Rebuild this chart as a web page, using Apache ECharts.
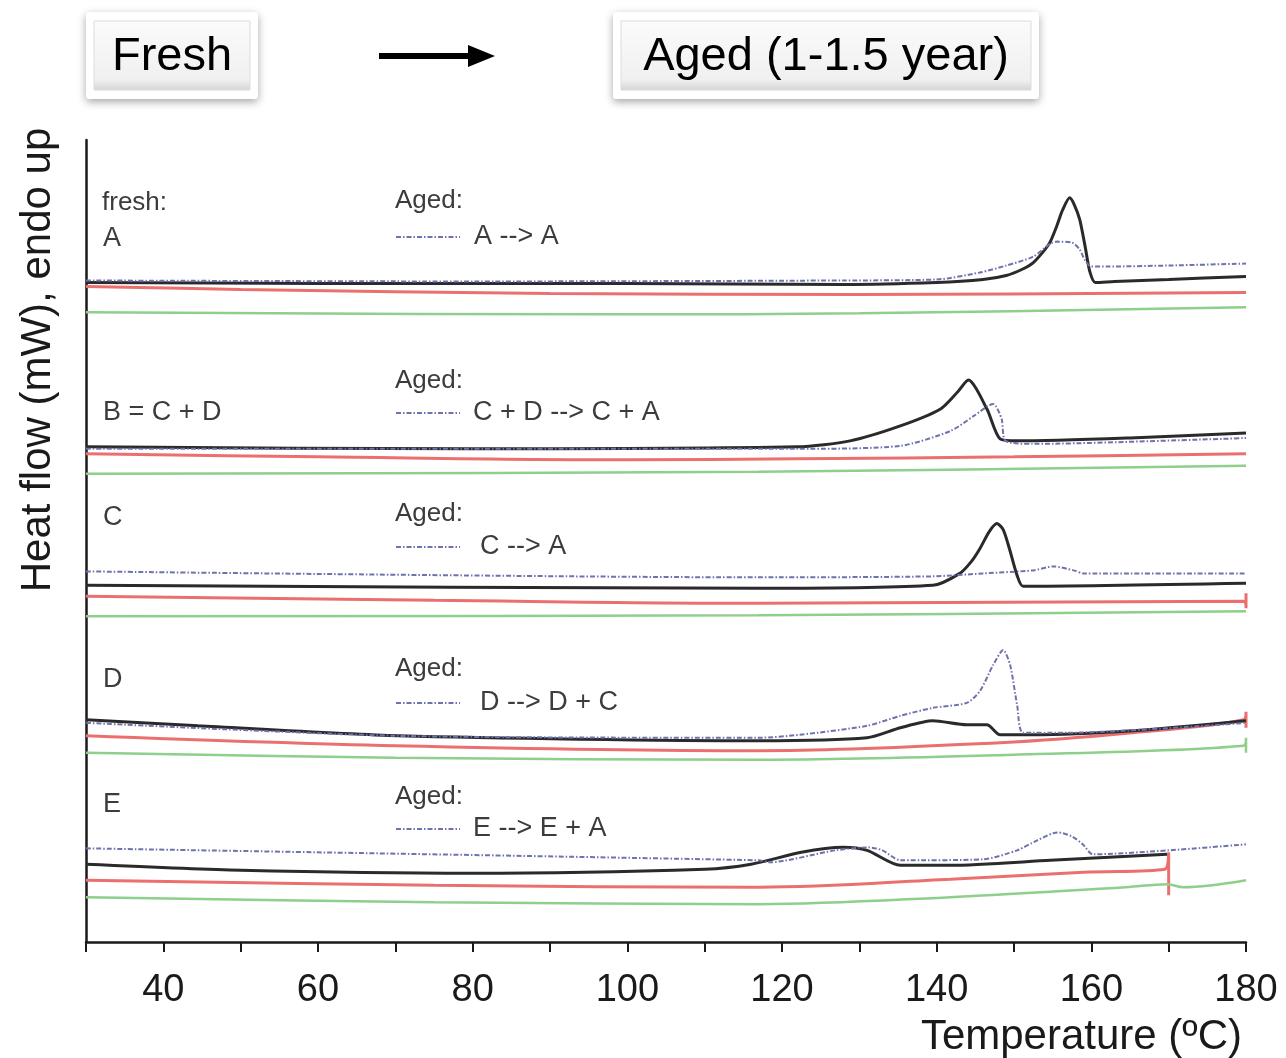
<!DOCTYPE html>
<html>
<head>
<meta charset="utf-8">
<style>
  html, body { margin: 0; padding: 0; background: #ffffff; }
  #chart { width: 1286px; height: 1058px; }
</style>
<script src="https://cdn.jsdelivr.net/npm/echarts@6/dist/echarts.min.js"></script>
</head>
<body>
<div id="chart"></div>
<script>
// ---- Axis settings ----
const xTickLabels = [40, 60, 80, 100, 120, 140, 160, 180];
const xTitle = 'Temperature (ºC)';
const yTitle = 'Heat flow (mW), endo up';

// ---- Data: [temperature (°C), heat flow (arbitrary offset units)] ----
// Sample A
const aFresh = [[30,662],[60,661],[100,661],[128,660],[140,662],[146,665],[149,669],[151,675],[152.5,682],[154,695],[154.7,703],[155.5,718],[156.3,735],[157.2,747],[157.8,740],[158.5,725],[159.2,698],[159.8,673],[160.5,662],[163,663],[170,665],[180,668]];
const aAged  = [[30,664],[80,663],[128,664],[140,665],[145.6,672],[149,679],[152.5,688],[154.7,701],[155.6,703],[157.5,702],[158.5,695],[159.2,684],[160,678],[162,678],[170,679],[180,681]];
const aRed   = [[30,658],[50,655],[90,651],[130,650],[180,652]];
const aGreen = [[30,632],[100,630],[130,631],[180,637]];
// Sample B = C + D
const bFresh = [[30,497],[80,495],[122,497],[128.8,503],[135.3,518],[140.5,535],[142.7,552],[144.1,564],[146.5,535],[148.2,505],[150.4,503],[165,506],[180,511]];
const bAged  = [[30,495],[122,495],[135.3,498],[141.8,513],[144.8,528],[147.3,540],[148.4,525],[148.9,503],[152.4,500],[177,505],[180,506]];
const bRed   = [[30,490],[60,487],[100,484],[122,485],[150,487],[180,490]];
const bGreen = [[30,470],[117,472],[180,478]];
// Sample C
const cFresh = [[30,358],[117,355],[139.5,358],[143,370],[144.5,382],[145.6,395],[146.8,412],[147.8,420],[148.6,414],[149.4,395],[150.4,368],[151.2,357],[180,360]];
const cAged  = [[30,372],[117,366],[139.5,367],[146,370],[152.5,373],[155.1,377],[157.7,373],[159,370],[180,370]];
const cRed   = [[30,347],[75,343],[117,340],[179.7,342],[180,335],[180,350]];
const cGreen = [[30,327],[117,328],[180,332]];
// Sample D
const dFresh = [[30,223],[44.5,217],[70.4,207],[117,202],[131,205],[135.3,215],[139.5,222],[143.9,218],[146.5,218],[148.2,208],[152.4,208],[165.3,212],[180,222]];
const dAged  = [[30,220],[70,207],[117,205],[122.3,208],[131,217],[135.3,227],[139.5,235],[143.9,240],[145.6,252],[147.3,278],[148.6,293],[149.5,278],[150.4,238],[151.2,210],[156.8,210],[180,220]];
const dRed   = [[30,207],[70,197],[117,192],[148.2,200],[165.3,210],[179.7,223],[180,231],[180,215]];
const dGreen = [[30,190],[70,185],[117,183],[150,188],[179.7,197],[180,205],[180,190]];
// Sample E
const eFresh = [[30,78],[50,72],[80,69],[110,73],[116,78],[122.5,90],[127.9,95],[131,92],[135.3,77],[141.8,77],[154.7,82],[169.8,88]];
const eAged  = [[30,94],[117,82],[118.3,80],[126.9,92],[131.2,95],[133,92],[135.3,82],[146,83],[150.4,92],[153,102],[155.6,110],[157.5,106],[158.9,98],[160.2,88],[170,92],[180,98]];
const eRed   = [[30,62],[75,57],[117,55],[141.8,63],[159,70],[169.5,73],[170,90],[170,47]];
const eGreen = [[30,45],[75,40],[117,38],[141.8,45],[164.5,55],[169.8,58],[171.9,55],[180,62]];

// ---- Annotation texts ----
const freshLabels = ['A', 'B = C + D', 'C', 'D', 'E'];
const agedLabels = ['A --> A', 'C + D --> C + A', 'C --> A', 'D --> D + C', 'E --> E + A'];

const FONT = "'Liberation Sans', Arial, Helvetica, sans-serif";
const COL = {
  black: '#2a2a2a',
  aged: '#6e72ad',
  red: '#ec6f6f',
  green: '#8fcf8a'
};

function mk(name, data, kind) {
  const st = {
    black: { color: COL.black, width: 3, type: 'solid' },
    aged:  { color: COL.aged, width: 2, type: [5, 2, 1.5, 2] },
    red:   { color: COL.red, width: 3, type: 'solid' },
    green: { color: COL.green, width: 2.5, type: 'solid' }
  }[kind];
  return {
    name: name, type: 'line', data: data,
    showSymbol: false, symbol: 'none',
    smooth: (kind === 'black' || kind === 'aged') ? 0.25 : 0.35,
    lineStyle: st, itemStyle: { color: st.color },
    z: kind === 'aged' ? 5 : (kind === 'black' ? 4 : 3),
    silent: true, animation: false
  };
}

const series = [
  mk('A red', aRed, 'red'), mk('A green', aGreen, 'green'), mk('A fresh', aFresh, 'black'), mk('A aged', aAged, 'aged'),
  mk('B red', bRed, 'red'), mk('B green', bGreen, 'green'), mk('B fresh', bFresh, 'black'), mk('B aged', bAged, 'aged'),
  mk('C red', cRed, 'red'), mk('C green', cGreen, 'green'), mk('C fresh', cFresh, 'black'), mk('C aged', cAged, 'aged'),
  mk('D red', dRed, 'red'), mk('D green', dGreen, 'green'), mk('D fresh', dFresh, 'black'), mk('D aged', dAged, 'aged'),
  mk('E red', eRed, 'red'), mk('E green', eGreen, 'green'), mk('E fresh', eFresh, 'black'), mk('E aged', eAged, 'aged')
];

// annotation layout (vertical centres in px)
const freshY = [239, 413, 518, 680, 805];
const agedHeadY = [201, 381, 514, 669, 797];
const agedY = [237, 413, 547, 703, 829];
const agedX = [474, 473, 480, 480, 473];

const graphics = [];
// top boxes
function box(x, y, w, h, text) {
  graphics.push({
    type: 'rect', shape: { x: x, y: y, width: w, height: h, r: 3 },
    style: { fill: '#ffffff', shadowBlur: 8, shadowColor: 'rgba(0,0,0,0.35)', shadowOffsetY: 3 }, z: 10
  });
  graphics.push({
    type: 'rect', shape: { x: x + 8, y: y + 9, width: w - 16, height: h - 18 },
    style: {
      fill: { type: 'linear', x: 0, y: 0, x2: 0, y2: 1, colorStops: [
        { offset: 0, color: '#fbfbfb' }, { offset: 0.85, color: '#f0f0f0' }, { offset: 1, color: '#d4d4d4' }] },
      stroke: '#dcdcdc', lineWidth: 1
    }, z: 11
  });
  graphics.push({
    type: 'text', x: x + w / 2, y: y + h / 2 + 2,
    style: { text: text, font: "47px " + FONT, fill: '#000000', align: 'center', verticalAlign: 'middle' }, z: 12
  });
}
box(86, 12, 172, 87, 'Fresh');
box(613, 12, 426, 87, 'Aged (1-1.5 year)');
// arrow
graphics.push({ type: 'rect', shape: { x: 379, y: 53, width: 92, height: 6 }, style: { fill: '#000' }, z: 10 });
graphics.push({ type: 'polygon', shape: { points: [[468, 45], [495, 56], [468, 67]] }, style: { fill: '#000' }, z: 10 });

// y-axis title
graphics.push({
  type: 'text', x: 38, y: 360, rotation: Math.PI / 2,
  style: { text: yTitle, font: "42px " + FONT, fill: '#1a1a1a', align: 'center', verticalAlign: 'middle' }, z: 10
});

// panel annotations
graphics.push({ type: 'text', x: 102, y: 203,
  style: { text: 'fresh:', font: "26px " + FONT, fill: '#3c3c3c', align: 'left', verticalAlign: 'middle' }, z: 10 });
for (let i = 0; i < 5; i++) {
  graphics.push({ type: 'text', x: 103, y: freshY[i],
    style: { text: freshLabels[i], font: "27px " + FONT, fill: '#3c3c3c', align: 'left', verticalAlign: 'middle' }, z: 10 });
  graphics.push({ type: 'text', x: 395, y: agedHeadY[i],
    style: { text: 'Aged:', font: "26px " + FONT, fill: '#3c3c3c', align: 'left', verticalAlign: 'middle' }, z: 10 });
  graphics.push({ type: 'line', shape: { x1: 396, y1: agedY[i], x2: 460, y2: agedY[i] },
    style: { stroke: COL.aged, lineWidth: 2, lineDash: [5, 2, 1.5, 2] }, z: 10 });
  graphics.push({ type: 'text', x: agedX[i], y: agedY[i],
    style: { text: agedLabels[i], font: "27px " + FONT, fill: '#3c3c3c', align: 'left', verticalAlign: 'middle' }, z: 10 });
}

const chart = echarts.init(document.getElementById('chart'), null, { renderer: 'canvas' });
chart.setOption({
  animation: false,
  backgroundColor: '#ffffff',
  grid: { left: 86, right: 40, top: 140, bottom: 113, containLabel: false },
  xAxis: {
    type: 'value', min: 30, max: 180, interval: 10,
    name: xTitle, nameLocation: 'end', nameGap: 0,
    nameTextStyle: { fontFamily: FONT, fontSize: 42, color: '#1a1a1a', align: 'right', verticalAlign: 'top', padding: [74, 4, 0, 0] },
    axisLine: { show: true, onZero: false, lineStyle: { color: '#1a1a1a', width: 2.5 } },
    axisTick: { show: true, inside: false, length: 10, lineStyle: { color: '#1a1a1a', width: 2 } },
    axisLabel: {
      show: true, margin: 30, fontFamily: FONT, fontSize: 38, color: '#1a1a1a',
      formatter: function (v) { return xTickLabels.indexOf(v) >= 0 ? String(v) : ''; }
    },
    splitLine: { show: false }
  },
  yAxis: {
    type: 'value', min: 0, max: 805,
    axisLine: { show: true, onZero: false, lineStyle: { color: '#1a1a1a', width: 2.5 } },
    axisTick: { show: false }, axisLabel: { show: false }, splitLine: { show: false }
  },
  series: series,
  graphic: graphics
});
</script>
</body>
</html>
